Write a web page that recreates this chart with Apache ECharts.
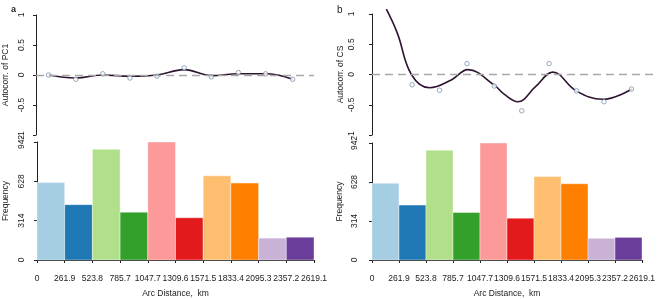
<!DOCTYPE html>
<html>
<head>
<meta charset="utf-8">
<script src="https://cdn.jsdelivr.net/npm/echarts@6/dist/echarts.min.js"></script>
<style>
  html, body { margin: 0; padding: 0; background: #fff; }
  #chart { width: 658px; height: 299px; }
</style>
</head>
<body>
<div id="chart"></div>
<script>
// histogram bins of pair distances (km) and pair counts
const breaksKm = [0, 261.9, 523.8, 785.7, 1047.7, 1309.6, 1571.5, 1833.4, 2095.3, 2357.2, 2619.1];
const pairCounts = [618, 442, 884, 382, 942, 337, 672, 614, 175, 182];
const freqTicks = [0, 314, 628, 942];

// autocorrelation per lag class
const lagKm = [118, 374, 629, 885, 1140, 1396, 1651, 1907, 2163, 2418];
const pc1Autocorr = [0.0, -0.07, 0.02, -0.05, -0.02, 0.12, -0.03, 0.04, 0.02, -0.07];
const pc1Smooth = [0.0, -0.05, 0.0, -0.02, 0.0, 0.09, -0.01, 0.02, 0.02, -0.07];
const csAutocorr = [null, -0.17, -0.26, 0.18, -0.19, -0.60, 0.18, -0.27, -0.45, -0.24];
const csSmoothKm = [134, 237, 367, 537, 739, 894, 1142, 1235, 1359, 1524, 1685, 1902, 2150, 2424];
const csSmooth = [1.08, 0.68, 0.0, -0.22, -0.09, 0.08, -0.18, -0.33, -0.45, -0.2, 0.04, -0.27, -0.41, -0.24];

const binColors = ['#A6CEE3', '#1F78B4', '#B2DF8A', '#33A02C', '#FB9A99', '#E31A1C', '#FDBF6F', '#FF7F00', '#CAB2D6', '#6A3D9A'];

const font = 'Liberation Sans, Arial, sans-serif';
const ink = '#222';

let chart = echarts.init(document.getElementById('chart'));

function histData(){
    return pairCounts.map((c, i) => [breaksKm[i], breaksKm[i + 1], c]);
}
function pairs(xs, ys){
    return xs.map((x, i) => [x, ys[i]]).filter(p => p[1] !== null);
}
function renderBin(params, api){
    let p0 = api.coord([api.value(0), api.value(2)]);
    let p1 = api.coord([api.value(1), 0]);
    return {
        type: 'rect',
        shape: { x: p0[0], y: p0[1], width: p1[0] - p0[0], height: p1[1] - p0[1] },
        style: { fill: binColors[params.dataIndex], stroke: '#fff', lineWidth: 0.4 }
    };
}

let axisBase = {
    axisLine: { show: true, lineStyle: { color: ink, width: 1 } },
    axisTick: { show: true, length: 3, lineStyle: { color: ink } },
    splitLine: { show: false },
    nameTextStyle: { fontFamily: font, fontSize: 8.5, color: ink },
};
function xTop(grid){
    return { gridIndex: grid, type: 'value', min: 0, max: 2619.1, show: false };
}
function xBottom(grid){
    return Object.assign({}, axisBase, {
        gridIndex: grid, type: 'value', min: 0, max: 2619.1, offset: 8,
        name: 'Arc Distance,  km', nameLocation: 'middle', nameGap: 21,
        axisTick: { show: true, length: 3, lineStyle: { color: ink }, customValues: breaksKm },
        axisLabel: {
            customValues: breaksKm, margin: 6, fontFamily: font, fontSize: 8.5, color: ink,
            formatter: v => v === 0 ? '0' : v.toFixed(1)
        }
    });
}
function yTop(grid, name, offset, gap){
    return Object.assign({}, axisBase, {
        gridIndex: grid, type: 'value', min: -1, max: 1, interval: 0.5, offset: offset,
        name: name, nameLocation: 'middle', nameGap: gap, nameRotate: 90,
        axisLabel: { rotate: 90, margin: 4, fontFamily: font, fontSize: 8.5, color: ink }
    });
}
function yBottom(grid, offset, gap){
    return Object.assign({}, axisBase, {
        gridIndex: grid, type: 'value', min: 0, max: 942, offset: offset,
        name: 'Frequency', nameLocation: 'middle', nameGap: gap, nameRotate: 90,
        axisTick: { show: true, length: 3, lineStyle: { color: ink }, customValues: freqTicks },
        axisLabel: { customValues: freqTicks, rotate: 90, margin: 4, fontFamily: font, fontSize: 8.5, color: ink }
    });
}
function zeroLine(ax){
    return {
        type: 'line', xAxisIndex: ax, yAxisIndex: ax, data: [], z: 1, silent: true,
        markLine: {
            silent: true, symbol: 'none', animation: false,
            label: { show: false },
            lineStyle: { type: [8, 5], color: '#a8a8a8', width: 1.3 },
            data: [{ yAxis: 0 }]
        }
    };
}
function curve(ax, xs, ys){
    return {
        type: 'line', xAxisIndex: ax, yAxisIndex: ax, data: pairs(xs, ys), smooth: 0.4,
        showSymbol: false, clip: false, z: 3,
        lineStyle: { color: '#2d1530', width: 1.6 }
    };
}
function points(ax, ys){
    return {
        type: 'scatter', xAxisIndex: ax, yAxisIndex: ax, data: pairs(lagKm, ys), z: 4,
        symbol: 'circle', symbolSize: 4.5,
        itemStyle: { color: '#fff', borderColor: '#6d89a8', borderWidth: 0.9 }
    };
}

let option = {
    animation: false,
    title: [
        { text: 'a', left: 6, top: 0, textStyle: { fontFamily: font, fontSize: 9, fontWeight: 'bold', color: ink } },
        { text: 'b', left: 332, top: 0, textStyle: { fontFamily: font, fontSize: 10, fontWeight: 'normal', color: ink } }
    ],
    grid: [
        { left: 36, top: 15, width: 278, height: 120 },
        { left: 36, top: 142, width: 278, height: 120 },
        { left: 372, top: 14, width: 281, height: 121 },
        { left: 372, top: 143, width: 281, height: 121 }
    ],
    xAxis: [xTop(0), xBottom(1), xTop(2), xBottom(3)],
    yAxis: [
        yTop(0, 'Autocorr. of PC1', 6, 20),
        yBottom(1, 7, 20),
        yTop(2, 'Autocorr. of CS', 12, 15),
        yBottom(3, 9, 19)
    ],
    series: [
        { type: 'custom', xAxisIndex: 1, yAxisIndex: 1, data: histData(), renderItem: renderBin },
        { type: 'custom', xAxisIndex: 3, yAxisIndex: 3, data: histData(), renderItem: renderBin },
        zeroLine(0),
        curve(0, lagKm, pc1Smooth),
        points(0, pc1Autocorr),
        zeroLine(2),
        curve(2, csSmoothKm, csSmooth),
        points(2, csAutocorr)
    ]
};
chart.setOption(option);
</script>
</body>
</html>
